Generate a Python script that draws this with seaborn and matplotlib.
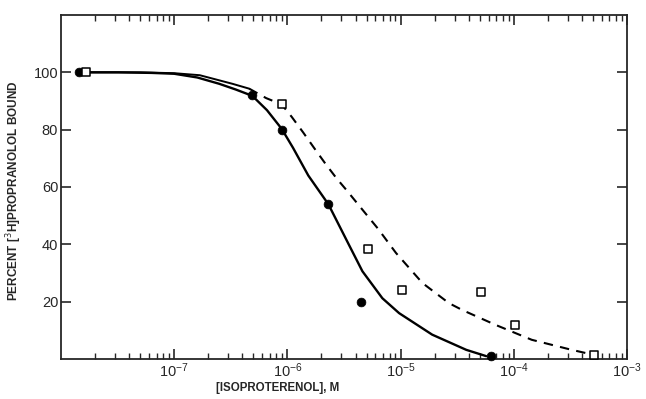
import numpy as np
import pandas as pd
import seaborn as sns
import matplotlib.pyplot as plt
from matplotlib.ticker import LogLocator, NullFormatter, FixedLocator, FixedFormatter

# fitted curve, filled circles (solid line)
solid_conc = [1.45e-8, 3.2e-8, 6.3e-8, 1e-7, 1.6e-7, 2.5e-7, 3.5e-7, 4.9e-7, 6.6e-7,
              8.9e-7, 1.12e-6, 1.53e-6, 2.3e-6, 3.5e-6, 4.6e-6, 6.9e-6, 9.7e-6,
              1.9e-5, 3.8e-5, 5.7e-5]
solid_pct = [100, 100, 99.8, 99.5, 98.2, 96, 94, 91.8, 86.8,
             80.3, 73.7, 64, 54, 39.8, 30.6, 21.2, 16,
             8.5, 3.2, 1.0]

# fitted curve, open squares (dashed line; plateau drawn solid)
dash_conc = [1.66e-8, 5e-8, 1e-7, 1.68e-7, 3.27e-7, 4.6e-7, 6.5e-7, 8.9e-7,
             1.09e-6, 1.38e-6, 1.73e-6, 2.16e-6, 2.72e-6, 3.33e-6, 4.3e-6,
             6.3e-6, 9.1e-6, 1.56e-5, 2.67e-5, 3.5e-5, 6.9e-5, 1.44e-4,
             3.24e-4, 4.3e-4, 5.1e-4]
dash_pct = [100, 100, 99.7, 99, 96, 94.3, 91, 88.8,
            84.5, 79, 73.5, 68.2, 63, 58.9, 53.5,
            45.5, 37, 26.5, 19.5, 17.1, 11.9, 6.7,
            3.2, 2.1, 1.5]
dash_start = 4.6e-7  # dashed style begins here

# measured points
filled_conc = [1.45e-8, 4.9e-7, 8.9e-7, 2.3e-6, 4.5e-6, 6.3e-5]
filled_pct = [100, 92, 80, 54, 20, 1]
open_conc = [1.66e-8, 8.9e-7, 5.2e-6, 1.03e-5, 5.1e-5, 1.02e-4, 5.1e-4]
open_pct = [100, 89, 38.5, 24, 23.5, 12, 1.3]

xtick_vals = [1e-7, 1e-6, 1e-5, 1e-4, 1e-3]
xtick_labels = [r"$\mathregular{10^{-7}}$", r"$\mathregular{10^{-6}}$",
                r"$\mathregular{10^{-5}}$", r"$\mathregular{10^{-4}}$",
                r"$\mathregular{10^{-3}}$"]

sns.set_style("ticks")
plt.rcParams['font.family'] = ['Liberation Sans', 'DejaVu Sans']

fig = plt.figure(figsize=(6.46, 3.99), dpi=100)
ax = fig.add_axes([61 / 646, 1 - 359 / 399, 566 / 646, 344 / 399])

solid = pd.DataFrame({"conc": solid_conc, "pct": solid_pct})
dash = pd.DataFrame({"conc": dash_conc, "pct": dash_pct})
dash_a = dash[dash.conc <= dash_start]
dash_b = dash[dash.conc >= dash_start]

sns.lineplot(data=solid, x="conc", y="pct", ax=ax, sort=False, estimator=None,
             color="black", lw=1.7)
sns.lineplot(data=dash_a, x="conc", y="pct", ax=ax, sort=False, estimator=None,
             color="black", lw=1.4)
sns.lineplot(data=dash_b, x="conc", y="pct", ax=ax, sort=False, estimator=None,
             color="black", lw=1.5, dashes=False, linestyle=(0, (4.5, 3.5)))

sns.scatterplot(x=filled_conc, y=filled_pct, ax=ax, marker="o", s=40,
                color="black", edgecolor="black", zorder=5, clip_on=False)
sns.scatterplot(x=open_conc, y=open_pct, ax=ax, marker="s", s=28,
                facecolor="white", edgecolor="black", linewidth=1.1,
                zorder=5, clip_on=False)

ax.set_xscale("log")
ax.set_xlim(1e-8, 1e-3)
ax.set_ylim(0, 120)
ax.set_yticks([20, 40, 60, 80, 100])
ax.xaxis.set_major_locator(FixedLocator(xtick_vals))
ax.xaxis.set_major_formatter(FixedFormatter(xtick_labels))
ax.xaxis.set_minor_locator(LogLocator(base=10, subs=np.arange(2, 10), numticks=20))
ax.xaxis.set_minor_formatter(NullFormatter())

ax.tick_params(axis="both", which="major", direction="in", length=7, width=1.2,
               top=True, right=True, labelsize=10.5, pad=2)
ax.tick_params(axis="x", which="minor", direction="in", length=4, width=1.0,
               top=True, bottom=True)
ax.tick_params(axis="y", which="minor", left=False, right=False)
for s in ax.spines.values():
    s.set_linewidth(1.3)
    s.set_visible(True)

ax.set_xlabel("[ISOPROTERENOL], M", fontsize=8.3, fontweight="bold")
ax.set_ylabel(r"PERCENT [$^{3}$H]PROPRANOLOL BOUND", fontsize=8.5, fontweight="bold")
ax.xaxis.set_label_coords(0.383, -0.068)
ax.yaxis.set_label_coords(-0.065, 0.49)

fig.savefig("out.png", dpi=100)
